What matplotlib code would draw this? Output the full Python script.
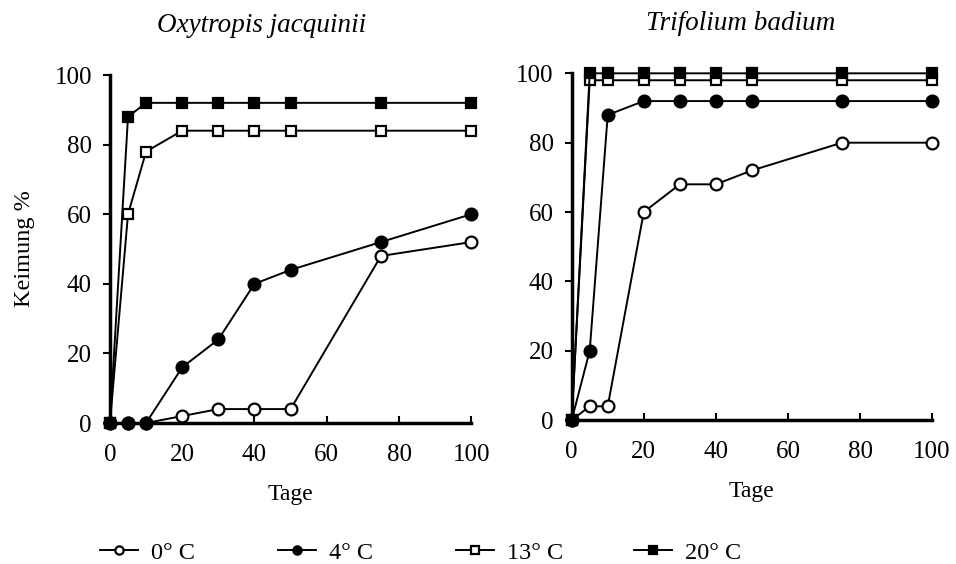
import matplotlib
matplotlib.use("Agg")
import matplotlib.pyplot as plt

plt.rcParams["font.family"] = ["Liberation Serif", "DejaVu Serif"]

# Keimung (%) over days for two species at four temperatures
days = [0, 5, 10, 20, 30, 40, 50, 75, 100]
labels = ["0° C", "4° C", "13° C", "20° C"]

oxy_0 = [0, 0, 0, 2, 4, 4, 4, 48, 52]
oxy_4 = [0, 0, 0, 16, 24, 40, 44, 52, 60]
oxy_13 = [0, 60, 78, 84, 84, 84, 84, 84, 84]
oxy_20 = [0, 88, 92, 92, 92, 92, 92, 92, 92]

tri_0 = [0, 4, 4, 60, 68, 68, 72, 80, 80]
tri_4 = [0, 20, 88, 92, 92, 92, 92, 92, 92]
tri_13 = [0, 98, 98, 98, 98, 98, 98, 98, 98]
tri_20 = [0, 100, 100, 100, 100, 100, 100, 100, 100]

styles = [
    dict(marker="o", mfc="white", ms=8.5),
    dict(marker="o", mfc="black", ms=8.5),
    dict(marker="s", mfc="white", ms=7.5),
    dict(marker="s", mfc="black", ms=7.5),
]

fig = plt.figure(figsize=(9.56, 5.64), dpi=100)
ax1 = fig.add_axes([0.115, 0.25, 0.378, 0.617])
ax2 = fig.add_axes([0.598, 0.255, 0.377, 0.615])

panels = [
    (ax1, "Oxytropis jacquinii", 0.42, [oxy_0, oxy_4, oxy_13, oxy_20]),
    (ax2, "Trifolium badium", 0.47, [tri_0, tri_4, tri_13, tri_20]),
]

handles = []
for ax, title, tx, series in panels:
    hs = []
    for vals, st, lab in zip(series, styles, labels):
        (h,) = ax.plot(days, vals, color="black", lw=1.4, mec="black", mew=1.6,
                       label=lab, clip_on=False, zorder=3, **st)
        hs.append(h)
    handles = hs
    ax.set_xlim(0, 100)
    ax.set_ylim(0, 100)
    ax.set_xticks(range(0, 101, 20))
    ax.set_yticks(range(0, 101, 20))
    for s in ["top", "right"]:
        ax.spines[s].set_visible(False)
    for s in ["left", "bottom"]:
        ax.spines[s].set_linewidth(2.5)
    ax.tick_params(axis="y", direction="out", length=5, width=1.5, labelsize=18, pad=8)
    ax.tick_params(axis="x", direction="in", length=5, width=1.5, labelsize=18, pad=15)
    ax.set_xlabel("Tage", fontsize=17, labelpad=13)
    ax.set_title(title, fontsize=19.5, style="italic", pad=31, x=tx)

ax1.set_ylabel("Keimung %", fontsize=17.5, labelpad=14)

# one legend entry per temperature, evenly spaced along the bottom
for i, (h, lab) in enumerate(zip(handles, labels)):
    fig.legend([h], [lab], loc="center left",
               bbox_to_anchor=(0.105 + 0.186 * i, 0.02), frameon=False, fontsize=17.5,
               handlelength=1.55, markerscale=0.7, handletextpad=0.55,
               borderpad=0, borderaxespad=0)

fig.savefig("out.png", dpi=100)
